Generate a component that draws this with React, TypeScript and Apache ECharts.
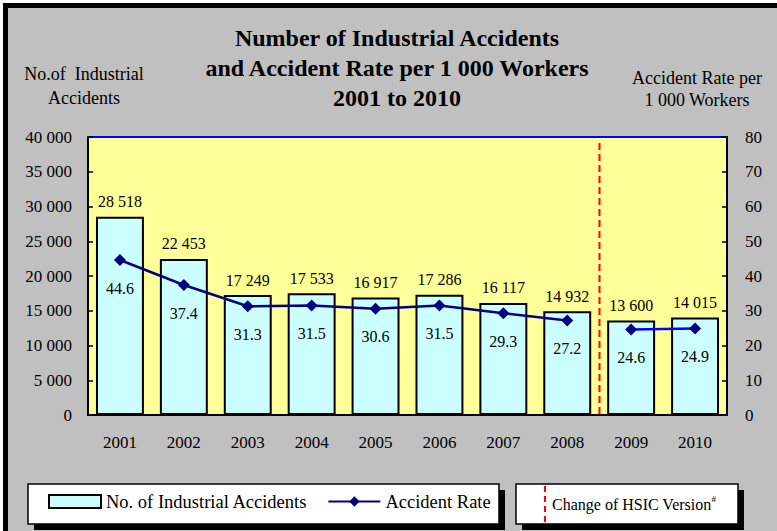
import React, { useEffect, useRef } from "react";
import * as echarts from "echarts";

const years = ["2001", "2002", "2003", "2004", "2005", "2006", "2007", "2008", "2009", "2010"];
const accidents = [28518, 22453, 17249, 17533, 16917, 17286, 16117, 14932, 13600, 14015];
const rates = [44.6, 37.4, 31.3, 31.5, 30.6, 31.5, 29.3, 27.2, 24.6, 24.9];
const leftTicks = { min: 0, max: 40000, interval: 5000 };
const rightTicks = { min: 0, max: 80, interval: 10 };
const splitIndex = 8; // HSIC version change happens before 2009

const FONT = "Liberation Serif";
const fmt = (v: number) => String(v).replace(/\B(?=(\d{3})+(?!\d))/g, " ");

export default function App() {
  const ref = useRef<HTMLDivElement>(null);
  useEffect(() => {
    if (!ref.current) return;
    const chart = echarts.init(ref.current, null, { renderer: "svg", width: 777, height: 531 });
    const ratesA = rates.map((v, i) => (i < splitIndex ? v : null));
    const ratesB = rates.map((v, i) => (i >= splitIndex ? v : null));

    const baseGraphics: any[] = [
      { id: "wl", type: "rect", shape: { x: 0, y: 0, width: 3, height: 531 }, style: { fill: "#fff" }, silent: true },
      { id: "wt", type: "rect", shape: { x: 0, y: 0, width: 777, height: 3 }, style: { fill: "#fff" }, silent: true },
      { id: "bl", type: "rect", shape: { x: 3, y: 3, width: 5, height: 528 }, style: { fill: "#000" }, silent: true },
      { id: "bt", type: "rect", shape: { x: 3, y: 3, width: 774, height: 5 }, style: { fill: "#000" }, silent: true },
      { id: "box1shadow", type: "rect", shape: { x: 34, y: 490, width: 471, height: 40 }, style: { fill: "#000" } },
      { id: "box1", type: "rect", shape: { x: 28, y: 484, width: 471, height: 40 }, style: { fill: "#fff", stroke: "#000", lineWidth: 1.5 } },
      { id: "box2shadow", type: "rect", shape: { x: 522, y: 490, width: 222, height: 40 }, style: { fill: "#000" } },
      { id: "box2", type: "rect", shape: { x: 516, y: 484, width: 222, height: 40 }, style: { fill: "#fff", stroke: "#000", lineWidth: 1.5 } },
      { id: "box2line", type: "line", shape: { x1: 545, y1: 486, x2: 545, y2: 523 }, style: { stroke: "#FF0000", lineWidth: 2, lineDash: [6, 4] } },
      {
        id: "box2text",
        type: "text",
        x: 552,
        y: 503,
        style: {
          text: "{a|Change of HSIC Version}{s|#}",
          verticalAlign: "middle",
          rich: {
            a: { fontFamily: FONT, fontSize: 16, fill: "#000", lineHeight: 18, verticalAlign: "bottom" },
            s: { fontFamily: FONT, fontSize: 9, fill: "#000", lineHeight: 18, verticalAlign: "top" },
          },
        },
      },
    ];

    const option: any = {
      animation: false,
      backgroundColor: "#C0C0C0",
      textStyle: { fontFamily: FONT },
      title: {
        text: "Number of Industrial Accidents\nand Accident Rate per 1 000 Workers\n2001 to 2010",
        left: 392,
        top: 18,
        textAlign: "center",
        textStyle: { fontFamily: FONT, fontSize: 24, fontWeight: "bold", color: "#000", lineHeight: 30 },
      },
      grid: {
        left: 88,
        right: 50,
        top: 137,
        bottom: 116,
        outerBoundsMode: "none",
        containLabel: false,
        show: true,
        backgroundColor: "#FFFF99",
        borderWidth: 0,
      },
      legend: {
        left: 43,
        top: 487,
        itemWidth: 52,
        itemHeight: 13,
        itemGap: 20,
        textStyle: { fontFamily: FONT, fontSize: 18.5, color: "#000" },
        data: [
          { name: "No. of Industrial Accidents", icon: "rect" },
          { name: "Accident Rate" },
        ],
      },
      xAxis: [
        {
          type: "category",
          data: years,
          axisLine: { onZero: false, lineStyle: { color: "#000", width: 2 } },
          axisTick: { inside: true, length: 5, lineStyle: { color: "#000", width: 1.5 } },
          axisLabel: { color: "#000", fontFamily: FONT, fontSize: 17, margin: 19 },
        },
        {
          type: "category",
          data: years,
          position: "top",
          axisLine: { onZero: false, lineStyle: { color: "#0000FF", width: 2 } },
          axisTick: { show: false },
          axisLabel: { show: false },
        },
      ],
      yAxis: [
        {
          type: "value",
          ...leftTicks,
          name: "No.of  Industrial\nAccidents",
          nameLocation: "end",
          nameGap: 27,
          nameTextStyle: { fontFamily: FONT, fontSize: 18, color: "#000", lineHeight: 24, align: "center", verticalAlign: "bottom", padding: [0, 8, 0, 0] },
          axisLine: { show: true, onZero: false, lineStyle: { color: "#000", width: 2 } },
          axisTick: { show: true, inside: true, length: 5, lineStyle: { color: "#000", width: 1.5 } },
          axisLabel: { color: "#000", fontFamily: FONT, fontSize: 17, margin: 16, formatter: (v: number) => fmt(v) },
          splitLine: { show: false },
        },
        {
          type: "value",
          ...rightTicks,
          position: "right",
          name: "Accident Rate per\n1 000 Workers",
          nameLocation: "end",
          nameGap: 26,
          nameTextStyle: { fontFamily: FONT, fontSize: 18, color: "#000", lineHeight: 22, align: "center", verticalAlign: "bottom", padding: [0, 60, 0, 0] },
          axisLine: { show: true, onZero: false, lineStyle: { color: "#000", width: 2 } },
          axisTick: { show: true, inside: true, length: 5, lineStyle: { color: "#000", width: 1.5 } },
          axisLabel: { color: "#000", fontFamily: FONT, fontSize: 17, margin: 18 },
          splitLine: { show: false },
        },
      ],
      series: [
        {
          name: "No. of Industrial Accidents",
          type: "bar",
          data: accidents,
          barWidth: "75%",
          itemStyle: { color: "#CCFFFF", borderColor: "#000", borderWidth: 2 },
          label: { show: true, position: "top", distance: 7, color: "#000", fontFamily: FONT, fontSize: 16, formatter: (p: any) => fmt(p.value) },
          z: 2,
        },
        {
          name: "Accident Rate",
          type: "line",
          yAxisIndex: 1,
          data: ratesA,
          symbol: "diamond",
          symbolSize: 12,
          color: "#000080",
          lineStyle: { color: "#000080", width: 2.5 },
          itemStyle: { color: "#000080" },
          label: { show: true, position: "bottom", distance: 14, color: "#000", fontFamily: FONT, fontSize: 16 },
          z: 3,
        },
        {
          name: "Accident Rate",
          type: "line",
          yAxisIndex: 1,
          data: ratesB,
          symbol: "diamond",
          symbolSize: 12,
          color: "#000080",
          lineStyle: { color: "#0000FF", width: 2.5 },
          itemStyle: { color: "#000080" },
          label: { show: true, position: "bottom", distance: 14, color: "#000", fontFamily: FONT, fontSize: 16 },
          z: 3,
        },
      ],
      graphic: { elements: baseGraphics },
    };
    chart.setOption(option);

    const xa = chart.convertToPixel({ xAxisIndex: 0 }, years[splitIndex - 1]) as number;
    const xb = chart.convertToPixel({ xAxisIndex: 0 }, years[splitIndex]) as number;
    const yTop = chart.convertToPixel({ yAxisIndex: 0 }, leftTicks.max) as number;
    const yBot = chart.convertToPixel({ yAxisIndex: 0 }, leftTicks.min) as number;
    const xm = Math.round((xa + xb) / 2) + 0.5;
    chart.setOption({
      graphic: {
        elements: [
          ...baseGraphics,
          { id: "hsic", type: "line", shape: { x1: xm, y1: yTop + 6, x2: xm, y2: yBot }, style: { stroke: "#FF0000", lineWidth: 2, lineDash: [7, 4] }, z: 5 },
        ],
      },
    });

    return () => chart.dispose();
  }, []);
  return <div ref={ref} style={{ position: "absolute", left: 0, top: 0, width: 777, height: 531 }} />;
}
